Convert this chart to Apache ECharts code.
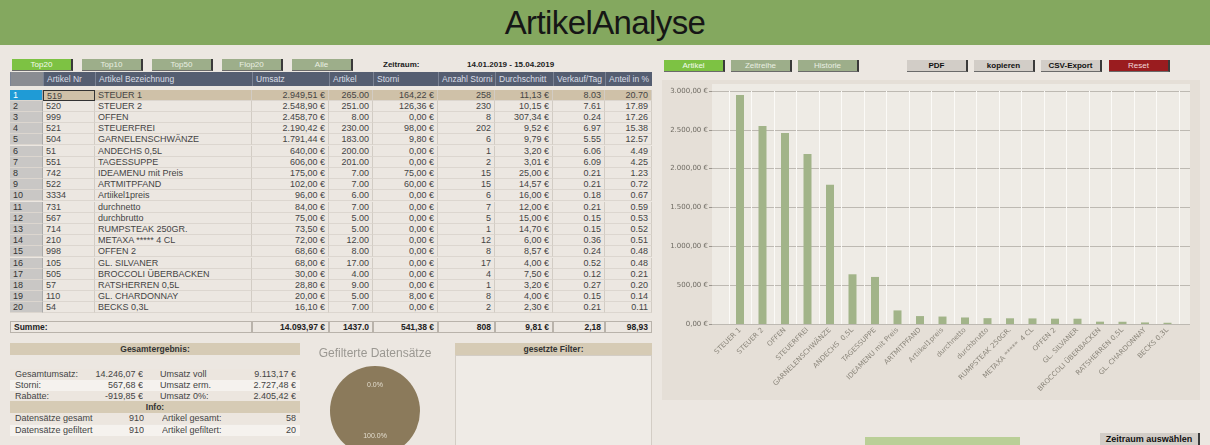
<!DOCTYPE html>
<html>
<head>
<meta charset="utf-8">
<title>ArtikelAnalyse</title>
<script src="https://cdn.jsdelivr.net/npm/echarts@6/dist/echarts.min.js"></script>
<style>
  html, body { margin: 0; padding: 0; width: 1210px; height: 445px; overflow: hidden; background: #ece7e1; font-family: "Liberation Sans", Arial, sans-serif; }
  .a { position: absolute; box-sizing: border-box; white-space: nowrap; overflow: hidden; }
  #head { left: 0; top: 0; width: 1210px; height: 45px; background: #84a85f; text-align: center; font-size: 33px; line-height: 45px; color: #161616; letter-spacing: -0.6px; }
  .btn { height: 12px; line-height: 12px; font-size: 8px; text-align: center; border-right: 2px solid #3a3a3a; border-bottom: 1px solid #6a6a6a; }
  .g1 { background: #7dc243; color: #f4fbef; }
  .g2 { background: #9dae8a; color: #e9efe2; }
  .gr { background: #d2cdc7; color: #111; font-weight: bold; }
  .rd { background: #9a1c1f; color: #f3dada; }
  .th { height: 14px; line-height: 14px; font-size: 8.5px; color: #d9dde6; background: #555e71; border-left: 1px solid #7b8394; padding-left: 3px; }
  .td { line-height: 10.5px; font-size: 9px; color: #444; border-right: 1px solid #d2ccc4; border-bottom: 1px solid #dcd6cf; padding: 0 3px; }
  .bold { font-weight: bold; }
  .lbl { height: 11px; line-height: 11px; font-size: 9px; color: #444; }
</style>
</head>
<body>
<div id="head" class="a">ArtikelAnalyse</div>
<div id="page"></div>
<div class="a" style="left:662px;top:80px;width:538px;height:320px;background:#e5dfd7;"></div>
<div class="a" style="left:712px;top:84px;width:478px;height:240px;background:#eeebe5;"></div>
<div id="bar" class="a" style="left:662px;top:80px;width:538px;height:320px;"></div>
<div id="pie" class="a" style="left:300px;top:330px;width:150px;height:140px;"></div>
<script>
// Tabellendaten (Top20 nach Umsatz)
const artikelNr = ['519', '520', '999', '521', '504', '51', '551', '742', '522', '3334', '731', '567', '714', '210', '998', '105', '505', '57', '110', '54'];
const bezeichnung = ['STEUER 1', 'STEUER 2', 'OFFEN', 'STEUERFREI', 'GARNELENSCHWÄNZE', 'ANDECHS  0,5L', 'TAGESSUPPE', 'IDEAMENU mit Preis', 'ARTMITPFAND', 'Artiikel1preis', 'durchnetto', 'durchbrutto', 'RUMPSTEAK 250GR.', 'METAXA *****  4 CL', 'OFFEN 2', 'GL. SILVANER', 'BROCCOLI ÜBERBACKEN', 'RATSHERREN 0,5L', 'GL. CHARDONNAY', 'BECKS 0,3L'];
const umsatz = [2949.51, 2548.90, 2458.70, 2190.42, 1791.44, 640.00, 606.00, 175.00, 102.00, 96.00, 84.00, 75.00, 73.50, 72.00, 68.60, 68.00, 30.00, 28.80, 20.00, 16.10];
const artikelAnz = [265, 251, 8, 230, 183, 200, 201, 7, 7, 6, 7, 5, 5, 12, 8, 17, 4, 9, 5, 7];
const storni = [164.22, 126.36, 0, 98.00, 9.80, 0, 0, 75.00, 60.00, 0, 0, 0, 0, 0, 0, 0, 0, 0, 8.00, 0];
const anzahlStorni = [258, 230, 8, 202, 6, 1, 2, 15, 15, 6, 7, 5, 1, 12, 8, 17, 4, 1, 8, 2];
const durchschnitt = [11.13, 10.15, 307.34, 9.52, 9.79, 3.20, 3.01, 25.00, 14.57, 16.00, 12.00, 15.00, 14.70, 6.00, 8.57, 4.00, 7.50, 3.20, 4.00, 2.30];
const verkaufTag = [8.03, 7.61, 0.24, 6.97, 5.55, 6.06, 6.09, 0.21, 0.21, 0.18, 0.21, 0.15, 0.15, 0.36, 0.24, 0.52, 0.12, 0.27, 0.15, 0.21];
const anteil = [20.70, 17.89, 17.26, 15.38, 12.57, 4.49, 4.25, 1.23, 0.72, 0.67, 0.59, 0.53, 0.52, 0.51, 0.48, 0.48, 0.21, 0.20, 0.14, 0.11];
const summe = ['14.093,97 €', '1437.0', '541,38 €', '808', '9,81 €', '2,18', '98,93'];
const spalten = ['', 'Artikel Nr', 'Artikel Bezeichnung', 'Umsatz', 'Artikel', 'Storni', 'Anzahl Storni', 'Durchschnitt', 'Verkauf/Tag', 'Anteil in %'];

// Gesamtergebnis / Info
const gesamtLinks = [['Gesamtumsatz:', '14.246,07 €'], ['Storni:', '567,68 €'], ['Rabatte:', '-919,85 €']];
const gesamtRechts = [['Umsatz voll', '9.113,17 €'], ['Umsatz erm.', '2.727,48 €'], ['Umsatz 0%:', '2.405,42 €']];
const infoLinks = [['Datensätze gesamt', '910'], ['Datensätze gefiltert', '910']];
const infoRechts = [['Artikel gesamt:', '58'], ['Artikel gefiltert:', '20']];

// Kreisdiagramm
const pieNamen = ['nicht gefiltert', 'gefiltert'];
const pieWerte = [0, 910];

function eur(v) {
  let [i, d] = v.toFixed(2).split('.');
  i = i.replace(/\B(?=(\d{3})+(?!\d))/g, '.');
  return i + ',' + d + ' €';
}

const page = document.getElementById('page');
function box(x, y, w, h, cls, text, css) {
  const d = document.createElement('div');
  d.className = 'a ' + (cls || '');
  d.style.left = x + 'px'; d.style.top = y + 'px';
  d.style.width = w + 'px'; d.style.height = h + 'px';
  if (css) d.style.cssText += css;
  if (text !== undefined) d.textContent = text;
  page.appendChild(d);
  return d;
}

// Buttons oben
[['Top20', 12, 'g1'], ['Top10', 82, 'g2'], ['Top50', 152, 'g2'], ['Flop20', 222, 'g2'], ['Alle', 292, 'g2']]
  .forEach(b => box(b[1], 59, 61, 12, 'btn ' + b[2], b[0]));
box(383, 59, 60, 12, 'bold', 'Zeitraum:', 'font-size:8px;line-height:12px;color:#222;');
box(467, 59, 120, 12, 'bold', '14.01.2019 - 15.04.2019', 'font-size:8px;line-height:12px;color:#222;');
[['Artikel', 664, 'g1'], ['Zeitreihe', 731, 'g2'], ['Historie', 798, 'g2'], ['PDF', 907, 'gr'], ['kopieren', 974, 'gr'], ['CSV-Export', 1041, 'gr'], ['Reset', 1109, 'rd']]
  .forEach(b => box(b[1], 60, 61, 12, 'btn ' + b[2], b[0]));

// Tabelle
const colX = [10, 43, 95, 252, 329, 373, 438, 495, 553, 605, 652];
const rechts = [false, false, false, true, true, true, true, true, true, true];
spalten.forEach((t, c) => {
  const el = box(colX[c], 72, colX[c + 1] - colX[c], 14, 'th', t);
  if (c === 0) el.style.background = '#8a8c92';
});
const rowTop = 89.5, rowH = 11.2;
for (let r = 0; r < artikelNr.length; r++) {
  const y = rowTop + r * rowH;
  const werte = [String(r + 1), artikelNr[r], bezeichnung[r], eur(umsatz[r]), artikelAnz[r].toFixed(2),
    eur(storni[r]), String(anzahlStorni[r]), eur(durchschnitt[r]), verkaufTag[r].toFixed(2), anteil[r].toFixed(2)];
  werte.forEach((t, c) => {
    const el = box(colX[c], y, colX[c + 1] - colX[c], rowH, 'td', t);
    if (rechts[c]) el.style.textAlign = 'right';
    if (c === 0) { el.style.background = r === 0 ? '#1f9bd6' : '#c9c7c5'; el.style.color = r === 0 ? '#fff' : '#333'; el.style.borderRight = '1px solid #aaa'; }
    else if (r === 0) el.style.background = '#cfc1a8';
    if (r === 0 && c === 1) el.style.border = '1px solid #333';
  });
}
// Summenzeile
const sy = 321;
box(10, sy, colX[3] - 10, 12, 'td bold', 'Summe:', 'border:1px solid #b9b3ab;line-height:10px;font-size:8.5px;color:#222;');
summe.forEach((t, i) => {
  const c = i + 3;
  box(colX[c], sy, colX[c + 1] - colX[c], 12, 'td bold', t, 'border:1px solid #b9b3ab;line-height:10px;text-align:right;font-size:8.5px;color:#222;');
});

// Gesamtergebnis
box(10, 343, 290, 12, 'bold', 'Gesamtergebnis:', 'background:#d6cbb5;text-align:center;font-size:8.5px;line-height:12px;color:#333;');
gesamtLinks.forEach((z, i) => {
  const y = 368.5 + i * 11;
  const bg = i === 1 ? '#f5f2ee' : '#ece6df';
  box(10, y, 290, 11, '', '', 'background:' + bg + ';');
  box(15, y, 80, 11, 'lbl', z[0]);
  box(80, y, 63, 11, 'lbl', z[1], 'text-align:right;');
  box(160, y, 80, 11, 'lbl', gesamtRechts[i][0]);
  box(230, y, 66, 11, 'lbl', gesamtRechts[i][1], 'text-align:right;');
});
box(10, 401, 290, 12, 'bold', 'Info:', 'background:#d6cbb5;text-align:center;font-size:8.5px;line-height:12px;color:#333;');
infoLinks.forEach((z, i) => {
  const y = 413 + i * 11.5;
  const bg = i === 1 ? '#f5f2ee' : '#ece6df';
  box(10, y, 290, 11, '', '', 'background:' + bg + ';');
  box(15, y, 100, 11, 'lbl', z[0]);
  box(100, y, 44, 11, 'lbl', z[1], 'text-align:right;');
  box(162, y, 90, 11, 'lbl', infoRechts[i][0]);
  box(240, y, 56, 11, 'lbl', infoRechts[i][1], 'text-align:right;');
});

// gesetzte Filter
box(455, 343, 197, 12, 'bold', 'gesetzte Filter:', 'background:#d6cbb5;text-align:center;font-size:8.5px;line-height:12px;color:#333;');
box(455, 355, 197, 95, '', '', 'background:#efebe6;border:1px solid #d3cdc5;');

// unten rechts
box(865, 437, 155, 12, '', '', 'background:#bacf97;');
box(1100, 433, 100, 13, 'btn gr', 'Zeitraum auswählen', 'font-size:9px;line-height:13px;height:13px;');

// Balkendiagramm
const bar = echarts.init(document.getElementById('bar'));
bar.setOption({
  animation: false,
  grid: [
    { left: 50, right: 10, top: 11, bottom: 76 },
    { left: 66.75, width: 450, top: 11, bottom: 76 }
  ],
  xAxis: [
    { gridIndex: 0, type: 'value', show: false, min: 0, max: 1 },
    {
      gridIndex: 1, type: 'category', data: bezeichnung,
      axisLine: { show: false }, axisTick: { show: false },
      splitLine: { show: true, lineStyle: { color: '#fbfaf7' } },
      axisLabel: { rotate: 45, interval: 0, fontSize: 7, color: '#8c877c', fontFamily: 'DejaVu Sans', margin: 5 }
    }
  ],
  yAxis: [
    {
      gridIndex: 0, type: 'value', min: 0, max: 3000, interval: 500,
      axisLine: { show: false },
      axisTick: { show: true, length: 3, lineStyle: { color: '#9a968f' } },
      splitLine: { lineStyle: { color: '#bdb9b2' } },
      axisLabel: { formatter: eur, fontSize: 7, color: '#6f6b63', fontFamily: 'DejaVu Sans', margin: 4 }
    },
    { gridIndex: 1, type: 'value', min: 0, max: 3000, show: false, splitLine: { show: false } }
  ],
  series: [{
    type: 'bar', xAxisIndex: 1, yAxisIndex: 1, data: umsatz, barWidth: 8,
    itemStyle: { color: '#a2b489' }
  }]
});

// Kreisdiagramm
const pie = echarts.init(document.getElementById('pie'));
pie.setOption({
  animation: false,
  title: {
    text: 'Gefilterte Datensätze', left: 'center', top: 13,
    textStyle: { fontSize: 12, fontWeight: 'normal', color: '#9b9892', fontFamily: 'Liberation Sans' }
  },
  color: ['#8b7a5b', '#8b7a5b'],
  series: [{
    type: 'pie', center: [75, 81], radius: 45, startAngle: 90,
    data: pieNamen.map((n, i) => ({ name: n, value: pieWerte[i] })),
    label: {
      position: 'inside', fontSize: 7, color: '#e2dccd',
      formatter: p => p.percent.toFixed(1) + '%'
    },
    labelLine: { show: false },
    emphasis: { disabled: true }
  }]
});
</script>
</body>
</html>
